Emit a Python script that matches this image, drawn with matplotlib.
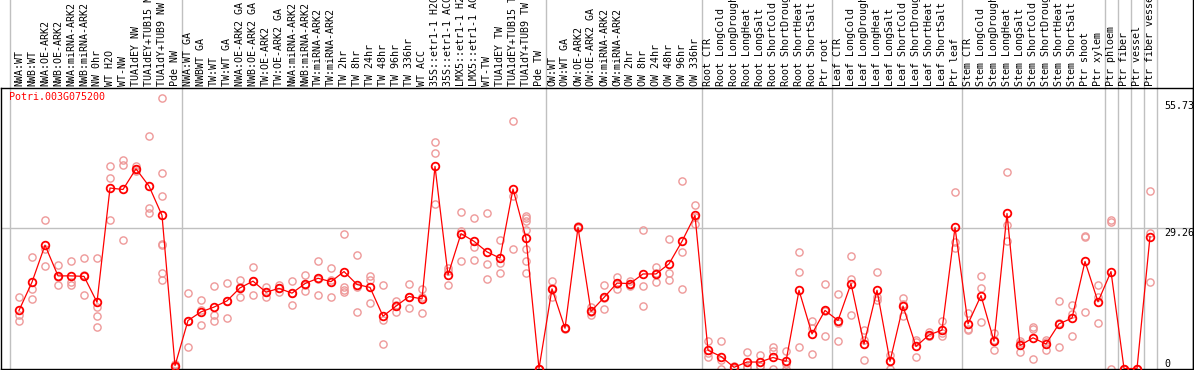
import numpy as np
import matplotlib
matplotlib.use("Agg")
from matplotlib import pyplot as plt
from matplotlib import transforms

# sample groups (labels, mean values, replicate values)
nw_labels = ["NWA:WT", "NWB:WT", "NWA:OE-ARK2", "NWB:OE-ARK2", "NWA:miRNA-ARK2",
             "NWB:miRNA-ARK2", "NW 0hr", "WT H2O", "WT-NW", "TUA1dEY NW",
             "TUA1dEY+TUB15 NW", "TUA1dY+TUB9 NW", "Pde NW"]
nw_means = [12.1, 18.0, 25.7, 19.3, 19.3, 19.2, 13.8, 37.6, 37.3, 41.6, 38.0, 31.9, 0.6]
nw_reps = [[14.8, 11.2, 10.0], [23.2, 16.6, 14.5], [30.9, 21.3, 24.9], [21.6, 17.3, 19.0],
           [22.5, 18.0, 17.5], [23.0, 15.3, 19.5], [23.0, 12.8, 10.9, 8.6],
           [42.1, 39.7, 30.9], [43.5, 42.3, 26.7], [42.1, 41.6, 41.2], [48.4, 33.4, 32.5],
           [56.3, 40.7, 35.9, 26.0, 25.8, 20.0, 18.4], [0.3, 1.0, 0.6]]

tw_labels = ["NWA:WT GA", "NWBWT GA", "TW:WT", "TW:WT GA", "NWA:OE-ARK2 GA",
             "NWB:OE-ARK2 GA", "TW:OE-ARK2", "TW:OE-ARK2 GA", "NWA:miRNA-ARK2",
             "NWB:miRNA-ARK2", "TW:miRNA-ARK2", "TW:miRNA-ARK2", "TW 2hr", "TW 8hr",
             "TW 24hr", "TW 48hr", "TW 96hr", "TW 336hr", "WT ACC", "35S::etr1-1 H2O",
             "35S::etr1-1 ACC", "LMX5::etr1-1 H2O", "LMX5::etr1-1 ACC", "WT-TW",
             "TUA1dEY TW", "TUA1dEY+TUB15 TW", "TUA1dY+TUB9 TW", "Pde TW"]
tw_means = [10.0, 11.8, 12.8, 14.1, 16.8, 18.2, 15.9, 16.7, 15.7, 17.7, 18.8, 18.1,
            20.2, 17.5, 16.9, 10.9, 13.0, 15.0, 14.5, 42.1, 19.5, 28.1, 26.5, 24.3,
            23.0, 37.4, 27.2, 0.0]
tw_reps = [[15.7, 4.5, 9.8], [14.2, 9.0, 12.2], [17.1, 11.2, 9.8], [17.8, 10.5, 14.0],
           [18.4, 15.0, 17.0], [21.1, 15.3, 18.2], [17.0, 14.8, 15.9], [17.5, 15.9, 16.7],
           [18.2, 13.2, 15.7], [19.5, 16.1, 17.5], [22.5, 15.3, 18.6], [20.9, 15.0, 18.4],
           [28.0, 17.0, 16.4, 15.9], [23.6, 17.0, 11.8], [19.3, 18.4, 13.6],
           [17.3, 10.2, 5.1], [14.1, 11.7, 13.2], [17.6, 12.6, 14.8], [16.6, 14.9, 11.6],
           [47.1, 44.8, 34.3], [20.9, 17.3, 20.3], [32.7, 28.6, 22.5], [31.3, 25.3, 22.7],
           [32.3, 21.8, 18.6], [26.7, 22.0, 20.0], [51.5, 35.9, 25.0],
           [31.8, 31.4, 30.8, 28.8, 25.0, 22.3, 20.0], [0.0, 0.0, 0.0]]

ow_labels = ["OW:WT", "OW:WT GA", "OW:OE-ARK2", "OW:OE-ARK2 GA", "OW:miRNA-ARK2",
             "OW:miRNA-ARK2", "OW 2hr", "OW 8hr", "OW 24hr", "OW 48hr", "OW 96hr", "OW 336hr"]
ow_means = [16.6, 8.4, 29.4, 11.9, 14.8, 17.8, 17.7, 19.7, 19.7, 21.8, 26.5, 31.9]
ow_reps = [[18.2, 14.8, 16.8], [8.3, 8.5, 8.4], [29.6, 29.4, 29.2], [12.8, 11.2, 11.7],
           [17.3, 12.4, 14.7], [19.1, 16.6, 17.7], [18.2, 17.5, 17.1], [28.8, 17.1, 13.0],
           [21.1, 18.0, 20.0], [27.0, 19.9, 18.4], [39.0, 24.2, 16.6], [34.0, 30.1, 31.6]]

root_labels = ["Root CTR", "Root LongCold", "Root LongDrought", "Root LongHeat",
               "Root LongSalt", "Root ShortCold", "Root ShortDrought", "Root ShortHeat",
               "Root ShortSalt", "Ptr root"]
root_means = [3.8, 2.5, 0.25, 1.35, 1.35, 2.3, 1.5, 16.3, 7.2, 12.1]
root_reps = [[5.7, 2.4, 3.3], [5.7, 0.0, 1.8], [0.5, 0.1, 0.2], [3.4, 0.3, 0.3],
             [2.9, 0.6, 0.6], [4.4, 3.6, 0.0], [3.6, 0.0, 0.9], [24.2, 20.2, 4.4],
             [10.0, 8.4, 3.1], [17.6, 6.7, 12.0]]

leaf_labels = ["Leaf CTR", "Leaf LongCold", "Leaf LongDrought", "Leaf LongHeat",
               "Leaf LongSalt", "Leaf ShortCold", "Leaf ShortDrought", "Leaf ShortHeat",
               "Leaf ShortSalt", "Ptr leaf"]
leaf_means = [10.0, 17.7, 5.1, 16.3, 1.5, 13.0, 4.6, 7.0, 8.0, 29.4]
leaf_reps = [[15.5, 9.5, 5.7], [23.4, 18.6, 11.1], [8.0, 6.0, 1.7], [20.2, 15.0, 14.2],
             [2.9, 0.0, 1.6], [14.7, 10.9, 13.4], [5.9, 2.3, 5.6], [7.6, 6.7, 6.7],
             [9.8, 6.7, 7.5], [36.7, 26.4, 25.1]]

stem_labels = ["Stem CTR", "Stem LongCold", "Stem LongDrought", "Stem LongHeat",
               "Stem LongSalt", "Stem ShortCold", "Stem ShortDrought", "Stem ShortHeat",
               "Stem ShortSalt", "Ptr shoot", "Ptr xylem"]
stem_means = [9.3, 15.2, 5.7, 32.3, 4.8, 6.4, 5.1, 9.3, 10.5, 22.3, 13.9]
stem_reps = [[11.6, 8.0, 8.3], [19.2, 16.8, 9.6], [7.4, 3.8, 5.9], [40.9, 29.8, 26.5],
             [5.7, 3.4, 5.3], [8.6, 8.3, 2.0], [5.9, 3.9, 5.5], [14.0, 4.5, 9.4],
             [13.2, 11.4, 6.7], [27.5, 11.7, 27.7], [17.3, 14.9, 9.5]]

cell_labels = ["Ptr phloem", "Ptr fiber", "Ptr vessel", "Ptr fiber vessel"]
cell_means = [20.2, 0.0, 0.0, 27.5]
cell_reps = [[30.9, 30.5, 0.0], [0.0, 0.0, 0.0], [0.0, 0.0], [36.9, 28.2, 18.0]]

gene = "Potri.003G075200"
scale_ticks = [55.73, 29.26, 0]

labels = nw_labels + tw_labels + ow_labels + root_labels + leaf_labels + stem_labels + cell_labels
means = nw_means + tw_means + ow_means + root_means + leaf_means + stem_means + cell_means
reps = nw_reps + tw_reps + ow_reps + root_reps + leaf_reps + stem_reps + cell_reps
x = np.arange(len(labels))

# group boundaries
sizes = [len(nw_labels), len(tw_labels), len(ow_labels), len(root_labels),
         len(leaf_labels), len(stem_labels), 1, 1, 1, 1]
bounds = np.cumsum(sizes) - 0.5

fig = plt.figure(figsize=(11.94, 3.70), dpi=100)
ax = fig.add_axes([1 / 1194, 1 / 370, 1192 / 1194, 281 / 370])
ax.set_xlim(-1.385, -1.385 + 1192 / 13)
ax.set_ylim(-0.1, 58.44)
ax.set_xticks([])
ax.set_yticks([])
for s in ax.spines.values():
    s.set_color("black")
    s.set_linewidth(1.0)

grey = "#c0c0c0"
ext = 370 / 281
ax.axvline(-0.7, 0, ext, color=grey, lw=1, clip_on=False, zorder=0)
for b in bounds:
    ax.axvline(b, 0, ext, color=grey, lw=1, clip_on=False, zorder=0)
ax.plot([1, 1], [0, ext], transform=ax.transAxes, color="black", lw=1.0, clip_on=False)
ax.axhline(29.26, color=grey, lw=1, zorder=0)

# sample names above the plot
lab_trans = transforms.offset_copy(
    transforms.blended_transform_factory(ax.transData, ax.transAxes),
    fig=fig, y=2, units="dots")
for i, lab in zip(x, labels):
    ax.text(i, 1, lab, transform=lab_trans, rotation=90, ha="center", va="bottom",
            fontsize=7.2, family="DejaVu Sans Mono", clip_on=False)

# replicate values
for i, r in zip(x, reps):
    ax.plot([i] * len(r), r, "o", mfc="none", mec="#ee9999", ms=5.2, mew=1.0, zorder=2)

# mean profile
ax.plot(x, means, "-", color="red", lw=0.9, zorder=3)
ax.plot(x, means, "o", mfc="none", mec="red", ms=5.5, mew=1.3, zorder=4)

ax.text(0.007, 0.985, gene, transform=ax.transAxes, color="red", ha="left", va="top",
        fontsize=7.2, family="DejaVu Sans Mono")

rt = transforms.blended_transform_factory(ax.transAxes, ax.transData)
for v in scale_ticks:
    ax.text(0.9757, v, "0" if v == 0 else "%.2f" % v, transform=rt, ha="left",
            va="bottom" if v == 0 else "top", fontsize=7.2, family="DejaVu Sans Mono")

fig.savefig("out.png", dpi=100)
